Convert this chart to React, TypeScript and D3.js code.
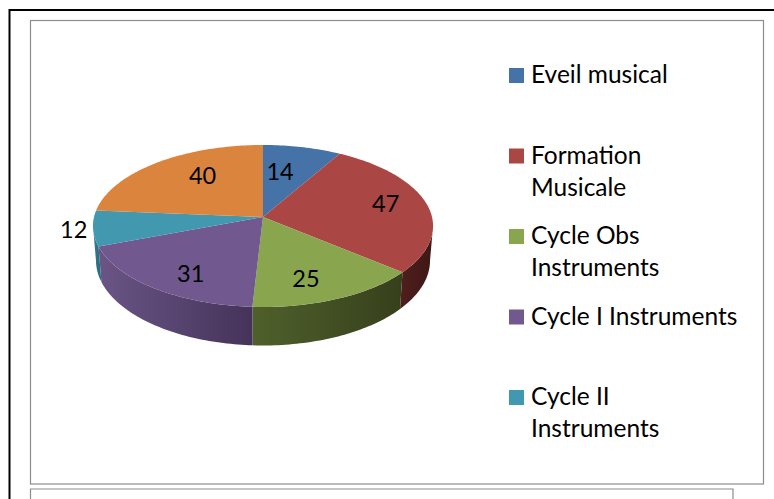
import * as d3 from 'd3';

const values = [14, 47, 25, 31, 12, 40];
const colors = ['#4572a7', '#aa4643', '#89a54e', '#71588f', '#4198af', '#db843d'];
const wallColors = [
  ['#35547b', '#35547b'],
  ['#4d1e1c', '#3e1715'],
  ['#4f602b', '#36401c'],
  ['#6a5585', '#45335a'],
  ['#35808f', '#2a6f85'],
  ['#9c5e2b', '#9c5e2b'],
];
// legend only shows the first five, wrapped as in the picture
const legendLines = [['Eveil musical'], ['Formation', 'Musicale'], ['Cycle Obs', 'Instruments'], ['Cycle I Instruments'], ['Cycle II', 'Instruments']];

// label nudges from the point at 60% of the radius
const labelNudge = [[-7.5, -1.4], [24, -5], [0, 15], [-9, 16], [-88, 6], [5, -7.5]];

const W = 774;
const H = 499;
const cx = 263;
const k = 0.111; // perspective of the tilted disc
const top = { A: 169, B: 80, y0: 217 };
const bottom = { A: 166, B: 84, y0: 251 };
const limit = Math.acos(-k);

type Disc = typeof top;
const project = (d: Disc, a: number, r = 1): [number, number] => {
  const w = 1 + k * r * Math.cos(a);
  return [cx + (d.A * r * Math.sin(a)) / w, d.y0 - (d.B * r * Math.cos(a)) / w];
};
const arcPoints = (d: Disc, a0: number, a1: number) => {
  const n = Math.max(2, Math.ceil((a1 - a0) / 0.02));
  return d3.range(n + 1).map(i => project(d, a0 + ((a1 - a0) * i) / n));
};

export default function App() {
  const slices = d3.pie<number>().sort(null)(values);
  const lineClosed = d3.line().curve(d3.curveLinearClosed);
  const centre = project(top, 0, 0);
  const font = 'Lato, sans-serif';

  return (
    <svg width={W} height={H} style={{ position: 'absolute', left: 0, top: 0, background: '#fff' }}>
      <defs>
        {slices.map((s, i) => {
          const a0 = Math.max(s.startAngle, limit);
          const a1 = Math.min(s.endAngle, 2 * Math.PI - limit);
          if (a1 <= a0) return null;
          const xs = [project(top, a0)[0], project(top, a1)[0]];
          return (
            <linearGradient key={i} id={`wall${i}`} gradientUnits="userSpaceOnUse"
              x1={Math.min(...xs)} x2={Math.max(...xs)} y1={0} y2={0}>
              <stop offset="0" stopColor={wallColors[i][0]} />
              <stop offset="1" stopColor={wallColors[i][1]} />
            </linearGradient>
          );
        })}
      </defs>

      {/* page frames */}
      <path d={`M9.5 ${H}V10H${W}`} fill="none" stroke="#000" strokeWidth={2} />
      <rect x={30.5} y={20.5} width={733} height={463.5} fill="#fff" stroke="#8c8c8c" strokeWidth={1.2} />
      <path d={`M30.5 ${H}V489H733V${H}`} fill="none" stroke="#8c8c8c" strokeWidth={1.2} />

      {slices.map((s, i) => {
        const a0 = Math.max(s.startAngle, limit);
        const a1 = Math.min(s.endAngle, 2 * Math.PI - limit);
        if (a1 <= a0) return null;
        const pts = [...arcPoints(top, a0, a1), ...arcPoints(bottom, a0, a1).reverse()];
        return <path key={i} d={lineClosed(pts) ?? ''} fill={`url(#wall${i})`} />;
      })}
      {slices.map((s, i) => (
        <path key={i} d={lineClosed([centre, ...arcPoints(top, s.startAngle, s.endAngle)]) ?? ''} fill={colors[i]} />
      ))}
      {slices.map((s, i) => {
        const [x, y] = project(top, (s.startAngle + s.endAngle) / 2, 0.6);
        return (
          <text key={i} x={x + labelNudge[i][0]} y={y + labelNudge[i][1]} dy="0.36em" textAnchor="middle"
            fontFamily={font} fontSize={23.5} fill="#000">{values[i]}</text>
        );
      })}

      {legendLines.map((lines, i) => (
        <g key={lines[0]} transform={`translate(509,${68 + i * 80.5})`}>
          <rect width={15} height={15} fill={colors[i]} />
          {lines.map((t, j) => (
            <text key={t} x={22} y={15 + j * 32} fontFamily={font} fontSize={24.5} fill="#000">{t}</text>
          ))}
        </g>
      ))}
    </svg>
  );
}
